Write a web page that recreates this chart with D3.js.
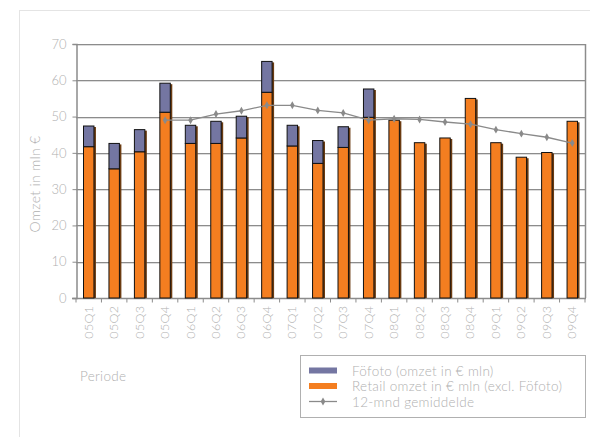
<!DOCTYPE html>
<html><head><meta charset="utf-8">
<script src="https://cdn.jsdelivr.net/npm/d3@7"></script>
<style>body{margin:0;background:#fff}svg{display:block}text{font-family:Lato,"Open Sans",sans-serif}</style>
</head><body>
<script>
const categories = ["05Q1","05Q2","05Q3","05Q4","06Q1","06Q2","06Q3","06Q4","07Q1","07Q2","07Q3","07Q4","08Q1","08Q2","08Q3","08Q4","09Q1","09Q2","09Q3","09Q4"];
const retail = [41.7,35.6,40.3,51.2,42.6,42.6,44.1,56.7,41.9,37.1,41.5,49.8,49.0,42.8,44.1,55.0,42.8,38.8,40.1,48.7];
const fofoto = [5.7,7.0,6.1,8.0,5.0,6.1,6.0,8.5,5.7,6.3,5.7,7.8,0,0,0,0,0,0,0,0];
const avg12 = [null,null,null,49.0,49.0,50.7,51.6,53.1,53.1,51.7,51.0,49.0,49.4,49.2,48.5,47.9,46.4,45.3,44.3,42.7];
const yTicks = [0,10,20,30,40,50,60,70];
const legendLabels = ["Föfoto (omzet in € mln)","Retail omzet in € mln (excl. Föfoto)","12-mnd gemiddelde"];

const W=590,H=437;
const svg=d3.select("body").append("svg").attr("width",W).attr("height",H);
svg.append("rect").attr("x",19.5).attr("y",10.5).attr("width",W).attr("height",H).attr("fill","none").attr("stroke","#e4e4e4");

const L=76,R=585,T=44,B=298;
const x=d3.scaleBand().domain(categories).range([L,R]).paddingInner(0.59).paddingOuter(0.295);
const xb=d3.scaleBand().domain(categories).range([L,R]);
const y=d3.scaleLinear().domain([0,70]).range([B,T]);

svg.append("g").selectAll("line").data(yTicks.filter(d=>d>0)).join("line")
 .attr("x1",L).attr("x2",R).attr("y1",d=>Math.round(y(d))+0.5+1).attr("y2",d=>Math.round(y(d))+0.5+1)
 .attr("stroke","#dcdcdc");
svg.append("g").selectAll("line").data(yTicks.filter(d=>d>0)).join("line")
 .attr("x1",L).attr("x2",R).attr("y1",d=>Math.round(y(d))+0.5).attr("y2",d=>Math.round(y(d))+0.5)
 .attr("stroke","#8c8c8c");
svg.append("line").attr("x1",R+0.5).attr("x2",R+0.5).attr("y1",T).attr("y2",B).attr("stroke","#8c8c8c").attr("stroke-width",1.5);

const ya=svg.append("g").attr("transform",`translate(${L+0.5},0)`).call(d3.axisLeft(y).tickValues(yTicks).tickSize(4).tickPadding(6));
ya.select(".domain").attr("stroke","#8c8c8c").attr("stroke-width",1.5);
ya.selectAll(".tick line").attr("stroke","#8c8c8c");
ya.selectAll(".tick text").attr("fill","#b0b0b0").attr("font-size",13).attr("font-family","Lato, sans-serif").attr("font-weight",300);

const xa=svg.append("g").attr("transform",`translate(0,${B+0.5})`);
xa.append("line").attr("x1",L-4).attr("x2",R+1).attr("stroke","#8c8c8c").attr("stroke-width",1.5);
xa.selectAll("line.t").data(d3.range(categories.length+1)).join("line").attr("class","t")
 .attr("x1",i=>L+i*xb.bandwidth()).attr("x2",i=>L+i*xb.bandwidth()).attr("y1",0).attr("y2",4).attr("stroke","#8c8c8c");
xa.selectAll("text").data(categories).join("text")
 .attr("transform",d=>`translate(${xb(d)+xb.bandwidth()/2+4},7) rotate(-90)`)
 .attr("text-anchor","end").attr("fill","#b0b0b0").attr("font-weight",300).attr("font-size",12.5).attr("letter-spacing",0.4).text(d=>d);

const bw=x.bandwidth();
const g=svg.append("g");
categories.forEach((c,i)=>{
  const x0=x(c);
  const total=retail[i]+fofoto[i];
  g.append("rect").attr("x",x0+2).attr("y",y(total)+1).attr("width",bw).attr("height",B-y(total)-1).attr("fill","#6b3c12");
  g.append("rect").attr("x",x0).attr("y",y(retail[i])).attr("width",bw).attr("height",B-y(retail[i]))
   .attr("fill","#f47e20").attr("stroke","#111").attr("stroke-width",1);
  if(fofoto[i]>0){
    g.append("rect").attr("x",x0).attr("y",y(total)).attr("width",bw).attr("height",y(retail[i])-y(total))
     .attr("fill","#7476a2").attr("stroke","#111").attr("stroke-width",1);
  }
});

const pts=categories.map((c,i)=>[xb(c)+xb.bandwidth()/2,avg12[i]]).filter(p=>p[1]!=null);
svg.append("path").datum(pts).attr("fill","none").attr("stroke","#8a8a8a").attr("stroke-width",1.3)
 .attr("d",d3.line().x(d=>d[0]).y(d=>y(d[1])));
svg.append("g").selectAll("path").data(pts).join("path")
 .attr("transform",d=>`translate(${d[0]},${y(d[1])})`)
 .attr("d",d3.symbol(d3.symbolDiamond,18)).attr("fill","#8a8a8a");

svg.append("text").attr("transform","translate(40,184) rotate(-90)").attr("text-anchor","middle")
 .attr("fill","#b0b0b0").attr("font-weight",300).attr("font-size",14).attr("letter-spacing",0.3).text("Omzet in mln €");
svg.append("text").attr("x",80).attr("y",381).attr("fill","#b0b0b0").attr("font-weight",300).attr("font-size",13.5).attr("letter-spacing",0.3).text("Periode");

svg.append("rect").attr("x",300.5).attr("y",355.5).attr("width",285).attr("height",62).attr("fill","#fff").attr("stroke","#b0b0b0");
const ly=[370.5,386,401.5];
svg.append("rect").attr("x",309).attr("y",ly[0]-3).attr("width",28).attr("height",6).attr("fill","#7476a2");
svg.append("rect").attr("x",309).attr("y",ly[1]-3).attr("width",28).attr("height",6).attr("fill","#f47e20");
svg.append("line").attr("x1",309).attr("x2",337).attr("y1",ly[2]).attr("y2",ly[2]).attr("stroke","#8a8a8a").attr("stroke-width",1.3);
svg.append("path").attr("transform",`translate(323,${ly[2]})`).attr("d",d3.symbol(d3.symbolDiamond,18)).attr("fill","#8a8a8a");
svg.append("g").selectAll("text").data(legendLabels).join("text")
 .attr("x",352).attr("y",(d,i)=>ly[i]+5).attr("fill","#b0b0b0")
 .attr("font-weight",300).attr("font-size",13.5).attr("letter-spacing",0.3).text(d=>d);
</script>
</body></html>
